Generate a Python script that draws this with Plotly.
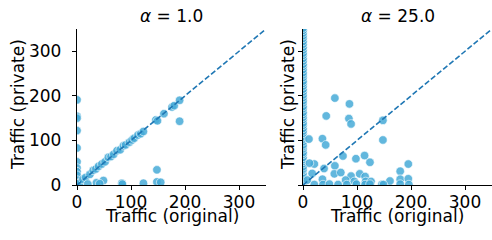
import plotly.graph_objects as go

# ---- data: alpha = 1.0 panel ----
a1_x = [0, 0, 0, 0, 0, 0, 0, 0, 0, 0, 0,
        5, 11, 16, 24, 30, 35, 40, 46, 52, 58, 63, 68, 74, 80, 86, 90,
        97, 102, 106, 113, 118, 123, 146, 149, 161, 176, 180, 190,
        190, 148, 148, 155, 123, 83, 49, 36, 20, 42, 84]
a1_y = [191, 154, 150, 122, 83, 52, 38, 30, 22, 11, 4,
        4, 13, 17, 24, 33, 36, 42, 47, 52, 62, 64, 69, 77, 79, 88, 90,
        96, 101, 105, 112, 115, 120, 146, 144, 160, 175, 178, 190,
        143, 34, 7, 6, 4, 4, 10, 5, 2, 3, 2]

# ---- data: alpha = 25.0 panel ----
a25_x = [59, 86, 43, 85, 89, 148, 11, 36, 42, 148, 74, 98, 114, 124,
         21, 59, 195, 39, 180, 17, 58, 70, 89, 105, 115, 36, 79, 95, 116,
         126, 161, 180, 195, 8, 12,
         21, 37, 49, 65, 81, 99, 115, 124, 146, 149, 180, 196]
a25_y = [195, 182, 155, 149, 137, 145, 103, 104, 90, 101, 65, 59, 66, 51,
         47, 43, 47, 37, 31, 26, 25, 28, 20, 25, 19, 13, 11, 8, 8,
         8, 9, 13, 14, 11, 49,
         1, 1, 2, 1, 1, 2, 1, 2, 1, 1, 2, 1]
a25_col_y = [2, 5, 9, 13, 18, 21, 27, 33, 36, 41, 48, 53, 57, 62, 69, 73,
             81, 86, 90, 97, 103, 108, 116, 121, 127, 134, 139, 147, 152,
             158, 163, 171, 176, 184, 189, 196, 202, 209, 215, 222, 228,
             233, 241, 247, 252, 259, 266, 271, 278, 284, 291, 296, 303,
             309, 316, 322, 329, 335, 341, 347, 352]

diag = [0, 350]
x_ticks = [0, 100, 200, 300]
y_ticks = [0, 100, 200, 300]
titles = ["<i>α</i> = 1.0", "<i>α</i> = 25.0"]
x_label = "Traffic (original)"
y_label = "Traffic (private)"

FONT = "DejaVu Sans"
FS = 17
W, H = 492, 240
mk = dict(size=8.5, color="rgba(70,170,215,0.85)",
          line=dict(color="white", width=0.6))
dash_line = dict(color="#1f77b4", width=1.6, dash="5.5px,2.4px")

fig = go.Figure()
fig.add_trace(go.Scatter(x=a1_x, y=a1_y, mode="markers", marker=mk,
                         xaxis="x", yaxis="y", showlegend=False))
fig.add_trace(go.Scatter(x=diag, y=diag, mode="lines", line=dash_line,
                         xaxis="x", yaxis="y", showlegend=False))
fig.add_trace(go.Scatter(x=[0] * len(a25_col_y), y=a25_col_y, mode="markers",
                         marker=mk, xaxis="x2", yaxis="y2", showlegend=False))
fig.add_trace(go.Scatter(x=a25_x, y=a25_y, mode="markers", marker=mk,
                         xaxis="x2", yaxis="y2", showlegend=False))
fig.add_trace(go.Scatter(x=diag, y=diag, mode="lines", line=dash_line,
                         xaxis="x2", yaxis="y2", showlegend=False))

ax_common = dict(range=[0, 350], showline=True, linecolor="black",
                 linewidth=1.3, ticks="outside", ticklen=4, tickwidth=1.1,
                 tickcolor="black", showgrid=False, zeroline=False,
                 automargin=False,
                 tickfont=dict(family=FONT, size=FS, color="black"))

L1, R1, L2, R2 = 77, 266, 303, 492
TOP, BOT = 29, 185
ydom = [(H - BOT) / H, (H - TOP) / H]


def ann(text, px, py, angle=0):
    return dict(text=text, x=px / W, y=(H - py) / H, xref="paper",
                yref="paper", showarrow=False, xanchor="center",
                yanchor="middle", textangle=angle, borderpad=0,
                font=dict(family=FONT, size=FS, color="black"))


fig.update_layout(
    width=W, height=H,
    margin=dict(l=0, r=0, t=0, b=0, autoexpand=False),
    paper_bgcolor="white", plot_bgcolor="white",
    font=dict(family=FONT, color="black"),
    xaxis=dict(domain=[L1 / W, R1 / W], anchor="y", tickvals=x_ticks,
               ticklabelstandoff=-3, **ax_common),
    yaxis=dict(domain=ydom, anchor="x", tickvals=y_ticks,
               ticklabelstandoff=7, **ax_common),
    xaxis2=dict(domain=[L2 / W, R2 / W], anchor="y2", tickvals=x_ticks,
                ticklabelstandoff=-3, **ax_common),
    yaxis2=dict(domain=ydom, anchor="x2", tickvals=y_ticks,
                showticklabels=False, **ax_common),
    annotations=[
        ann(titles[0], (L1 + R1) / 2, 16),
        ann(titles[1], (L2 + R2) / 2, 16),
        ann(x_label, 172, 216),
        ann(x_label, 397, 216),
        ann(y_label, 18, 105, -90),
        ann(y_label, 288, 105, -90),
    ],
)

# remove the default 8px page margin so the figure fills the window
fig.write_html("out.html",
               config={"displayModeBar": False},
               post_script="document.body.style.margin='0px';")
